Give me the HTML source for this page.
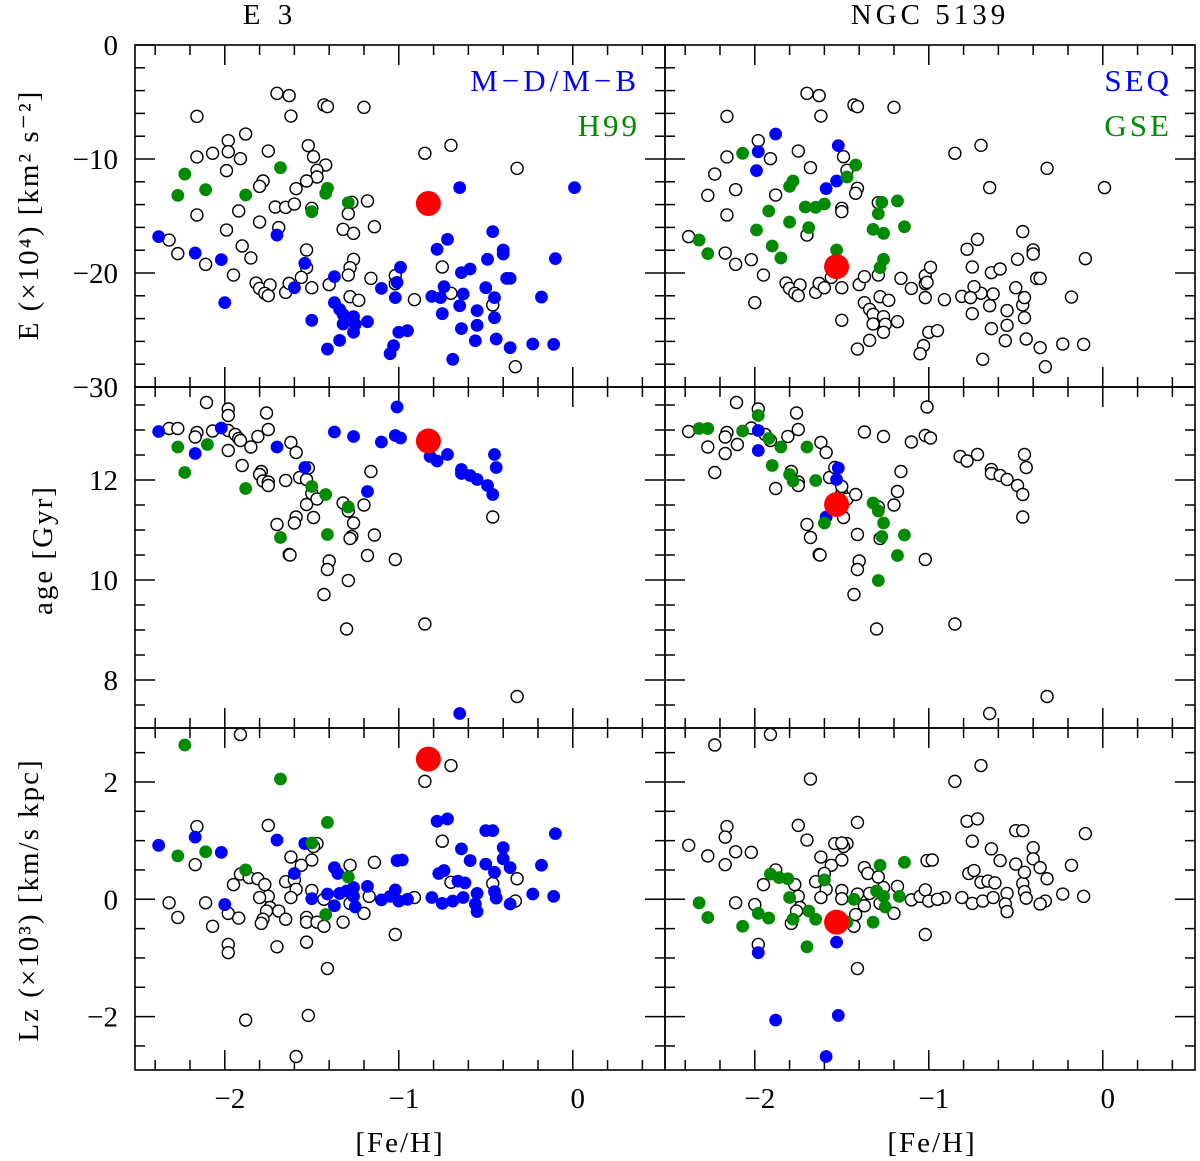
<!DOCTYPE html>
<html><head><meta charset="utf-8"><style>
html,body{margin:0;padding:0;background:#fff;}
svg{display:block;font-family:"Liberation Serif",serif;}
</style></head><body>
<svg id="chart" width="1200" height="1161" viewBox="0 0 1200 1161" xmlns="http://www.w3.org/2000/svg">
<g id="frames"></g><g id="ticks"></g><g id="marks"></g><g id="labels"></g>
</svg>
<script>
// [feh, E(x1e4), catLeft, catRight]  0=open 1=blue 2=green
const energyPoints = [
[-1.70,-4.24,0,0],[-1.63,-4.44,0,0],[-2.16,-6.26,0,0],[-1.62,-6.23,0,0],[-1.43,-5.26,0,0],[-1.41,-5.41,0,0],[-1.20,-5.47,0,0],
[-1.88,-7.81,0,1],[-1.98,-8.39,0,0],[-2.16,-9.82,0,0],[-2.07,-9.50,0,2],[-1.98,-9.36,0,1],[-1.91,-9.97,0,0],[-1.75,-9.30,0,0],[-1.52,-8.83,0,1],[-1.49,-9.80,0,0],[-1.42,-10.53,0,2],[-1.47,-10.99,0,0],[-1.47,-11.58,0,2],[-1.99,-11.02,0,1],[-1.78,-11.93,0,2],[-1.80,-12.40,0,2],[-1.59,-12.60,0,1],[-1.53,-11.93,0,1],[-0.85,-9.50,0,0],[-0.70,-8.80,0,0],[-0.32,-10.82,0,0],[-1.71,-14.21,0,2],[-1.65,-14.24,0,2],[-1.60,-13.95,0,2],[-1.92,-14.56,0,2],[-2.16,-14.91,0,0],[-1.80,-15.53,0,2],[-1.69,-16.02,0,2],[-1.27,-13.80,0,2],[-1.18,-13.68,0,2],[-1.29,-14.80,0,2],[-1.14,-15.94,0,2],[-1.32,-16.17,0,2],[-1.26,-16.52,0,2],[-1.99,-16.23,0,2],[-2.32,-17.11,0,2],[-2.27,-18.30,0,2],[-2.11,-19.24,0,0],[-1.90,-17.63,0,2],[-1.85,-18.68,0,2],[-1.53,-17.98,0,2],[-1.26,-18.80,0,2],[-1.28,-19.53,0,2],[-1.29,-20.18,0,0],[-1.53,-19.53,0,0],[-1.95,-20.18,0,0],[-1.56,-20.38,0,0],[-1.82,-20.88,0,0],[-1.80,-21.35,0,0],[-1.74,-21.05,0,0],[-1.77,-21.78,0,0],[-1.75,-21.99,0,0],[-1.65,-21.70,0,0],[-1.63,-20.91,0,0],[-1.50,-21.29,0,0],[-1.40,-21.02,0,0],[-1.28,-22.08,0,0],[-1.23,-22.40,0,0],[-1.16,-20.47,0,0],[-1.02,-20.23,0,0],[-1.02,-20.94,0,0],[-0.91,-22.34,0,0],[-0.75,-19.47,0,0],[-0.70,-21.78,0,0],[-0.46,-22.81,0,0],[-0.33,-28.22,0,0],[-1.50,-14.33,0,0],
[-2.38,-16.81,1,0],[-2.17,-18.25,1,0],[-2.02,-18.83,1,0],[-1.70,-16.67,1,0],[-2.00,-22.60,1,0],[-1.54,-19.15,1,0],[-1.37,-20.32,1,0],[-1.60,-21.29,1,0],[-1.50,-24.15,1,0],[-1.37,-22.60,1,0],[-1.34,-23.19,1,0],[-1.32,-23.63,1,0],[-1.32,-24.47,1,0],[-1.26,-23.83,1,0],[-1.25,-24.50,1,0],[-1.26,-25.20,1,0],[-1.18,-24.27,1,0],[-1.34,-25.91,1,0],[-1.41,-26.67,1,0],[-1.10,-21.35,1,0],[-1.01,-20.82,1,0],[-1.02,-22.16,1,0],[-0.99,-19.50,1,0],[-1.00,-25.20,1,0],[-0.95,-25.06,1,0],[-1.03,-26.37,1,0],[-1.05,-27.08,1,0],[-0.65,-12.51,1,0],[0.01,-12.51,1,0],[-0.72,-17.05,1,0],[-0.78,-17.92,1,0],[-0.46,-16.37,1,0],[-0.40,-17.98,1,0],[-0.40,-18.33,1,0],[-0.49,-18.80,1,0],[-0.64,-19.97,1,0],[-0.59,-19.65,1,0],[-0.74,-21.20,1,0],[-0.81,-22.05,1,0],[-0.76,-22.16,1,0],[-0.63,-21.84,1,0],[-0.65,-22.87,1,0],[-0.50,-21.29,1,0],[-0.45,-22.16,1,0],[-0.38,-20.47,1,0],[-0.36,-20.47,1,0],[-0.55,-23.30,1,0],[-0.75,-23.57,1,0],[-0.45,-23.92,1,0],[-0.55,-24.59,1,0],[-0.64,-24.88,1,0],[-0.56,-25.94,1,0],[-0.44,-25.79,1,0],[-0.36,-26.55,1,0],[-0.23,-26.23,1,0],[-0.11,-26.26,1,0],[-0.69,-27.57,1,0],[-0.10,-18.74,1,0],[-0.18,-22.11,1,0],
[-2.23,-11.32,2,0],[-2.27,-13.19,2,0],[-2.11,-12.69,2,0],[-1.88,-13.16,2,0],[-1.68,-10.76,2,0],[-1.41,-12.57,2,0],[-1.42,-13.01,2,0],[-1.29,-13.83,2,0],[-1.50,-14.62,2,0]
];
// [feh, age(Gyr), catLeft, catRight]
const agePoints = [
[-2.105,13.55,0,0],[-1.98,13.42,0,0],[-1.98,13.29,0,2],[-1.76,13.34,0,0],[-2.32,13.03,0,2],[-2.27,13.03,0,2],[-2.16,12.95,0,0],[-2.17,12.86,0,0],[-2.07,12.98,0,2],[-1.98,12.99,0,1],[-1.94,12.91,0,0],[-1.92,12.83,0,2],[-1.91,12.79,0,0],[-1.81,12.87,0,0],[-1.75,13.01,0,0],[-1.85,12.66,0,2],[-1.98,12.59,0,1],[-1.62,12.75,0,0],[-1.59,12.55,0,0],[-1.90,12.29,0,2],[-1.79,12.17,0,0],[-1.80,12.11,0,2],[-1.78,11.98,0,2],[-1.75,11.96,0,0],[-1.75,11.89,0,0],[-1.65,11.99,0,2],[-1.57,12.05,0,0],[-1.53,12.01,0,1],[-1.52,12.24,0,1],[-1.50,11.73,0,0],[-1.47,11.62,0,0],[-1.53,11.51,0,0],[-1.49,11.25,0,0],[-1.59,11.26,0,1],[-1.60,11.14,0,2],[-1.70,11.11,0,0],[-1.32,11.54,0,2],[-1.29,11.38,0,2],[-1.26,11.14,0,2],[-1.27,10.87,0,2],[-1.28,10.83,0,0],[-1.20,11.50,0,0],[-1.16,12.17,0,0],[-1.14,10.90,0,2],[-1.63,10.51,0,0],[-1.625,10.50,0,0],[-1.18,10.49,0,2],[-1.02,10.41,0,0],[-1.40,10.38,0,0],[-1.41,10.21,0,0],[-1.29,9.99,0,2],[-1.43,9.71,0,0],[-1.30,9.02,0,0],[-0.85,9.12,0,0],[-0.46,11.26,0,0],[-0.32,7.67,0,0],
[-2.38,12.97,1,0],[-2.17,12.53,1,0],[-2.02,13.04,1,0],[-1.70,12.66,1,2],[-1.54,12.25,1,0],[-1.37,12.96,1,0],[-1.26,12.87,1,0],[-1.18,11.77,1,0],[-1.10,12.76,1,0],[-1.01,13.46,1,0],[-1.02,12.89,1,0],[-0.99,12.84,1,0],[-0.82,12.47,1,0],[-0.78,12.38,1,0],[-0.72,12.51,1,0],[-0.64,12.21,1,0],[-0.64,12.13,1,0],[-0.59,12.09,1,0],[-0.55,12.01,1,0],[-0.49,11.89,1,0],[-0.46,11.71,1,0],[-0.45,12.51,1,0],[-0.44,12.25,1,0],[-0.65,7.33,1,0],
[-2.27,12.66,2,0],[-2.10,12.71,2,0],[-2.23,12.15,2,0],[-1.88,11.83,2,0],[-1.50,11.87,2,0],[-1.42,11.71,2,0],[-1.29,11.46,2,0],[-1.68,10.85,2,0],[-1.41,10.91,2,0]
];
// [feh, Lz(x1e3), catLeft, catRight]
const lzPoints = [
[-1.91,2.81,0,0],[-0.70,2.28,0,0],[-0.85,2.01,0,0],[-2.16,1.24,0,0],[-1.75,1.26,0,0],[-1.47,0.95,0,0],[-1.49,0.90,0,0],[-0.75,0.99,0,0],[-1.62,0.72,0,0],[-1.50,0.67,0,0],[-1.56,0.58,0,0],[-2.17,0.59,0,0],[-1.28,0.58,0,2],[-1.14,0.63,0,2],[-1.91,0.43,0,2],[-1.86,0.37,0,2],[-1.81,0.35,0,2],[-1.77,0.25,0,0],[-1.95,0.25,0,0],[-1.65,0.30,0,0],[-1.60,0.33,0,2],[-1.59,0.17,0,0],[-1.75,0.05,0,0],[-1.80,0.03,0,2],[-1.62,0.03,0,0],[-1.50,0.15,0,0],[-0.70,0.29,0,0],[-0.46,0.27,0,0],[-0.32,0.35,0,0],[-2.32,-0.06,0,2],[-2.11,-0.06,0,0],[-2.27,-0.31,0,2],[-1.98,-0.24,0,2],[-1.92,-0.32,0,2],[-2.07,-0.46,0,2],[-1.74,-0.14,0,0],[-1.76,-0.20,0,0],[-1.78,-0.34,0,2],[-1.79,-0.41,0,0],[-1.69,-0.20,0,2],[-1.65,-0.34,0,2],[-1.53,-0.31,0,0],[-1.53,-0.39,0,0],[-1.47,-0.39,0,2],[-1.43,-0.46,0,0],[-1.32,-0.39,0,2],[-1.20,-0.24,0,0],[-1.43,0.00,0,2],[-1.28,-0.07,0,0],[-1.17,0.05,0,2],[-0.91,0.03,0,0],[-0.33,-0.03,0,0],[-1.02,-0.60,0,0],[-1.98,-0.77,0,0],[-1.98,-0.91,0,1],[-1.70,-0.81,0,2],[-1.53,-0.73,0,1],[-1.41,-1.18,0,0],[-1.88,-2.06,0,1],[-1.52,-1.98,0,1],[-1.59,-2.68,0,1],
[-2.38,0.92,1,0],[-2.17,1.06,1,0],[-2.02,0.80,1,0],[-1.70,1.01,1,0],[-2.00,-0.09,1,0],[-1.60,0.44,1,0],[-1.54,0.95,1,0],[-1.37,0.54,1,0],[-1.35,0.44,1,0],[-1.41,0.09,1,0],[-1.50,0.01,1,0],[-1.37,-0.11,1,0],[-1.34,0.10,1,0],[-1.30,0.14,1,2],[-1.26,0.20,1,0],[-1.26,0.05,1,2],[-1.25,-0.13,1,2],[-1.18,0.22,1,0],[-1.10,-0.01,1,0],[-1.05,0.05,1,0],[-1.02,0.16,1,0],[-1.00,-0.03,1,0],[-0.95,0.00,1,0],[-1.01,0.66,1,0],[-0.98,0.67,1,0],[-0.78,1.33,1,0],[-0.72,1.37,1,0],[-0.64,0.86,1,0],[-0.59,0.66,1,0],[-0.77,0.44,1,0],[-0.74,0.49,1,0],[-0.66,0.31,1,0],[-0.62,0.28,1,0],[-0.81,0.03,1,0],[-0.75,-0.07,1,0],[-0.69,-0.03,1,0],[-0.63,0.03,1,0],[-0.55,0.10,1,0],[-0.56,-0.08,1,0],[-0.55,-0.21,1,0],[-0.50,1.17,1,0],[-0.46,1.17,1,0],[-0.50,0.60,1,0],[-0.45,0.46,1,0],[-0.40,0.88,1,0],[-0.40,0.69,1,0],[-0.36,0.54,1,0],[-0.45,0.13,1,0],[-0.44,0.02,1,0],[-0.36,-0.08,1,0],[-0.23,0.09,1,0],[-0.18,0.58,1,0],[-0.11,0.05,1,0],[-0.10,1.12,1,0],
[-2.23,2.63,2,0],[-1.68,2.05,2,0],[-1.41,1.31,2,0],[-1.50,0.96,2,0],[-2.27,0.74,2,0],[-2.11,0.81,2,0],[-1.88,0.50,2,0],[-1.29,0.38,2,0],[-1.42,-0.26,2,0]
];
// red target cluster: [feh, value] for left (E 3) and right (NGC 5139)
const redLeft = [[-0.83,-13.9],[-0.83,12.78],[-0.83,2.39]];
const redRight = [[-1.53,-19.44],[-1.53,11.51],[-1.53,-0.39]];
const xTickLabels = ["−2","−1","0"];
const xTickValues = [-2,-1,0];
const rowDefs = [
 {y0:45,y1:387,min:-30,max:0,major:[0,-10,-20,-30],majorLab:["0","−10","−20","−30"],minorStep:2,name:"energy"},
 {y0:387,y1:728,min:7.04,max:13.86,major:[8,10,12],majorLab:["8","10","12"],minorStep:0.5,name:"age"},
 {y0:728,y1:1070,min:-2.91,max:2.92,major:[-2,0,2],majorLab:["−2","0","2"],minorStep:0.5,name:"lz"}
];
const cols=[{x0:135,x1:665,name:"e3"},{x0:665,x1:1195,name:"ngc5139"}];
const FMIN=-2.516,FMAX=0.53;
const NS="http://www.w3.org/2000/svg";
function mk(tag,attrs,parent){const e=document.createElementNS(NS,tag);for(const k in attrs)e.setAttribute(k,attrs[k]);parent.appendChild(e);return e;}
const xs=(c,f)=>c.x0+(f-FMIN)/(FMAX-FMIN)*(c.x1-c.x0);
const ys=(r,v)=>r.y1-(v-r.min)/(r.max-r.min)*(r.y1-r.y0);
const frames=document.getElementById('frames'),ticks=document.getElementById('ticks'),marks=document.getElementById('marks'),labels=document.getElementById('labels');
const datasets=[energyPoints,agePoints,lzPoints];
const colors=["#fff","#0000ff","#008a00"];
rowDefs.forEach((r,ri)=>{
 cols.forEach((c,ci)=>{
  const fr=mk('rect',{x:c.x0,y:r.y0,width:c.x1-c.x0,height:r.y1-r.y0,fill:'none',stroke:'#000','stroke-width':1.6},frames);
  
  
  for(let f=-2.4;f<=0.41;f+=0.2){
   const v=Math.round(f*10)/10;const isMaj=Math.abs(v-Math.round(v))<1e-6;const L=isMaj?20:10;const x=xs(c,v);
   mk('line',{x1:x,y1:r.y0,x2:x,y2:r.y0+L,stroke:'#000','stroke-width':1.5},ticks);
   mk('line',{x1:x,y1:r.y1,x2:x,y2:r.y1-L,stroke:'#000','stroke-width':1.5},ticks);
  }
  const start=Math.ceil(r.min/r.minorStep)*r.minorStep;
  for(let v=start;v<=r.max+1e-9;v+=r.minorStep){
   const vv=Math.round(v*100)/100;const isMaj=r.major.some(m=>Math.abs(m-vv)<1e-6);const L=isMaj?20:10;const y=ys(r,vv);
   mk('line',{x1:c.x0,y1:y,x2:c.x0+L,y2:y,stroke:'#000','stroke-width':1.5},ticks);
   mk('line',{x1:c.x1,y1:y,x2:c.x1-L,y2:y,stroke:'#000','stroke-width':1.5},ticks);
  }
  const g=mk('g',{},marks);
  
  
  const pts=datasets[ri];
  [0,1,2].forEach(cat=>{
   pts.forEach(p=>{
    if(p[2+ci]!==cat)return;
    const el=mk('circle',{cx:xs(c,p[0]),cy:ys(r,p[1]),r:6,fill:colors[cat],stroke:cat===0?'#000':colors[cat],'stroke-width':cat===0?1.4:0.8},g);
    
    
   });
  });
  const rp=(ci===0?redLeft:redRight)[ri];
  const red=mk('circle',{cx:xs(c,rp[0]),cy:ys(r,rp[1]),r:12.5,fill:'#ff0000'},g);
  
  
  if(ci===0){
   r.major.forEach((m,mi)=>{
    const t=mk('text',{x:118,y:ys(r,m)+10,'text-anchor':'end','font-size':29},labels);t.textContent=r.majorLab[mi];
    
    
   });
  }
  if(ri===2){
   xTickValues.forEach((v,i)=>{
    const t=mk('text',{x:xs(c,v)+5,y:1108,'text-anchor':'middle','font-size':29},labels);t.textContent=xTickLabels[i];
    
    
   });
  }
 });
});
function txt(s,attrs,name){const t=mk('text',attrs,labels);t.textContent=s;return t;}
txt("E 3",{x:270,y:24,'text-anchor':'middle','font-size':29,'letter-spacing':5},'title-e3');
txt("NGC 5139",{x:930,y:24,'text-anchor':'middle','font-size':29,'letter-spacing':4},'title-ngc5139');
txt("[Fe/H]",{x:400,y:1152,'text-anchor':'middle','font-size':29,'letter-spacing':2},'x-axis-title-left');
txt("[Fe/H]",{x:932,y:1152,'text-anchor':'middle','font-size':29,'letter-spacing':2},'x-axis-title-right');
txt("E (×10⁴) [km² s⁻²]",{x:0,y:0,'text-anchor':'middle','font-size':29,'letter-spacing':2,transform:'translate(38,215) rotate(-90)'},'y-axis-title-energy');
txt("age [Gyr]",{x:0,y:0,'text-anchor':'middle','font-size':29,'letter-spacing':2,transform:'translate(52,550) rotate(-90)'},'y-axis-title-age');
txt("Lz (×10³) [km/s kpc]",{x:0,y:0,'text-anchor':'middle','font-size':29,'letter-spacing':2,transform:'translate(38,900) rotate(-90)'},'y-axis-title-lz');
txt("M−D/M−B",{x:640,y:91,'text-anchor':'end','font-size':31,fill:'#0000ff','letter-spacing':4},'legend-md-mb');
txt("H99",{x:640,y:136,'text-anchor':'end','font-size':31,fill:'#008a00','letter-spacing':3},'legend-h99');
txt("SEQ",{x:1172,y:91,'text-anchor':'end','font-size':31,fill:'#0000ff','letter-spacing':3},'legend-seq');
txt("GSE",{x:1172,y:136,'text-anchor':'end','font-size':31,fill:'#008a00','letter-spacing':3},'legend-gse');
</script>
</body></html>
